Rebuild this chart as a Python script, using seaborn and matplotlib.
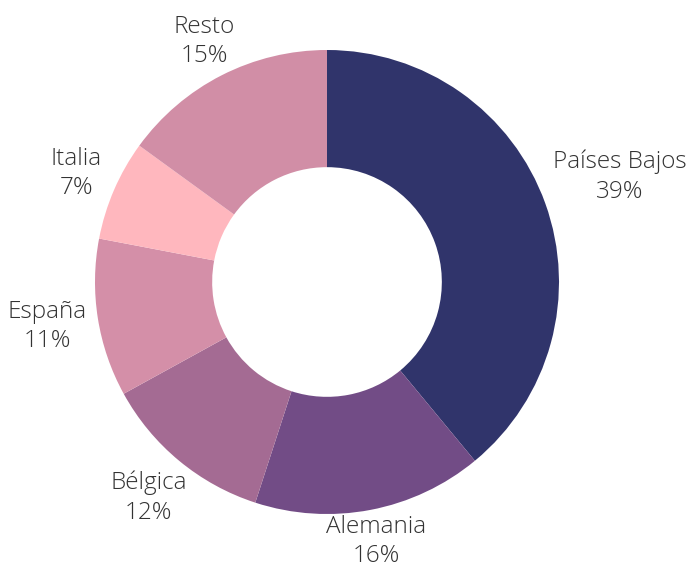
import matplotlib

matplotlib.use("Agg")
import matplotlib.pyplot as plt
import numpy as np
import seaborn as sns

countries = ["Países Bajos", "Alemania", "Bélgica", "España", "Italia", "Resto"]
shares = [39, 16, 12, 11, 7, 15]
colors = ["#30346b", "#724c86", "#a46b93", "#d48fa8", "#ffb7be", "#d18ea6"]

sns.set_style("white")
plt.rcParams["font.family"] = ["Open Sans", "DejaVu Sans"]

W, H = 687, 569
cx, cy, radius = 327, 282, 232

fig = plt.figure(figsize=(W / 100, H / 100), dpi=100)
ax = fig.add_axes([0, 0, 1, 1])

wedges, _ = ax.pie(
    shares,
    colors=colors,
    startangle=90,
    counterclock=False,
    radius=1,
    wedgeprops=dict(width=0.505, linewidth=0),
)
ax.set_aspect("auto")
ax.set_xlim(-cx / radius, (W - cx) / radius)
ax.set_ylim(-(H - cy) / radius, cy / radius)
ax.axis("off")

fig.canvas.draw()
renderer = fig.canvas.get_renderer()
px = 1 / radius

for wedge, name, pct in zip(wedges, countries, shares):
    ang = np.deg2rad((wedge.theta1 + wedge.theta2) / 2)
    c, s = np.cos(ang), np.sin(ang)
    txt = ax.text(
        0, 0, f"{name}\n{pct}%",
        ha="center", va="center", fontsize=17.5, fontweight="light",
        color="#333333", linespacing=1.3,
    )
    bb = txt.get_window_extent(renderer)
    half = abs(c) * bb.width / 2 + abs(s) * bb.height / 2
    d = 0.975 + 0.06 * abs(c) + half * px
    txt.set_position((d * c, d * s))

fig.savefig("out.png", dpi=100)
plt.close(fig)
